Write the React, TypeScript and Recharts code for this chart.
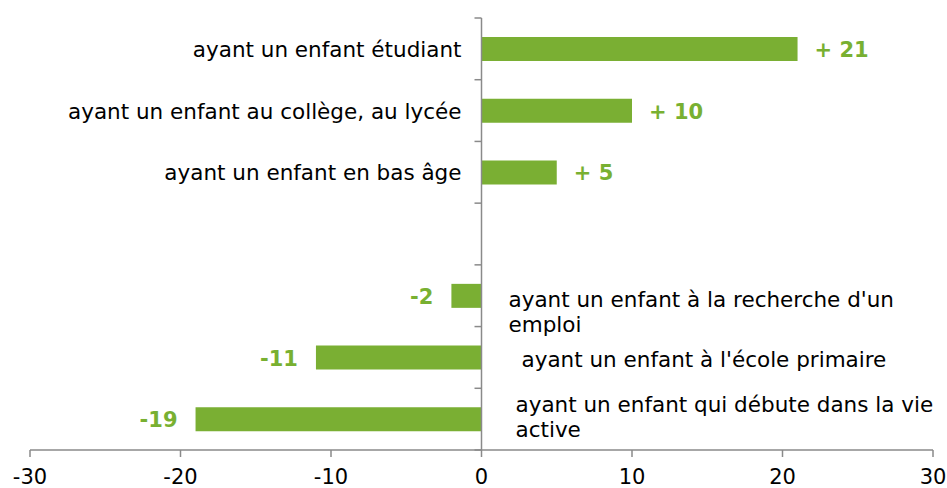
import React from "react";
import { BarChart, Bar, XAxis, YAxis, ReferenceLine, LabelList } from "recharts";

// chart data
const CATEGORY_LINES: string[][] = [
  ["ayant un enfant étudiant"],
  ["ayant un enfant au collège, au lycée"],
  ["ayant un enfant en bas âge"],
  [],
  ["ayant un enfant à la recherche d'un", "emploi"],
  ["ayant un enfant à l'école primaire"],
  ["ayant un enfant qui débute dans la vie", "active"],
];
const VALUES: (number | null)[] = [21, 10, 5, null, -2, -11, -19];
const X_TICKS = [-30, -20, -10, 0, 10, 20, 30];

const data = CATEGORY_LINES.map((lines, i) => ({
  name: lines.length ? lines.join(" ") : "-",
  value: VALUES[i],
}));

// layout / style
const W = 947;
const H = 488;
const MARGIN = { top: 18, right: 14, bottom: 8, left: 29 };
const YAXIS_W = 1;
const XAXIS_H = 30;
const PLOT_LEFT = MARGIN.left + YAXIS_W;
const PLOT_W = W - PLOT_LEFT - MARGIN.right;
const PLOT_H = H - MARGIN.top - MARGIN.bottom - XAXIS_H;
const BAND = PLOT_H / CATEGORY_LINES.length;
const X0 = PLOT_LEFT + PLOT_W / 2;
const FONT = "'DejaVu Sans', Verdana, sans-serif";
const CAT_SIZE = 21.5;
const AXIS = "#8a8a8a";
const GREEN = "#7aaf33";
const LABEL_GREEN = "#78b031";
// placement of the labels sitting right of the axis (negative bars)
const NEG_LABEL_POS: Record<number, { dx: number; dy: number }> = {
  4: { dx: 27, dy: 11 },
  5: { dx: 40, dy: 10 },
  6: { dx: 34, dy: -7 },
};

function CategoryTick(props: any) {
  const y = Number(props.y);
  const i: number = props.payload?.index ?? props.index;
  const v = VALUES[i];
  const lines = CATEGORY_LINES[i] || [];
  const pos = NEG_LABEL_POS[i] || { dx: 30, dy: 8 };
  return (
    <g>
      <line x1={X0 - 7} x2={X0} y1={y - BAND / 2} y2={y - BAND / 2} stroke={AXIS} strokeWidth={1.5} />
      {i === CATEGORY_LINES.length - 1 && (
        <line x1={X0 - 7} x2={X0} y1={y + BAND / 2} y2={y + BAND / 2} stroke={AXIS} strokeWidth={1.5} />
      )}
      {v != null && v > 0 && (
        <text x={X0 - 20} y={y + 8} textAnchor="end" fontSize={CAT_SIZE} fill="#000" fontFamily={FONT}>
          {lines[0]}
        </text>
      )}
      {v != null && v < 0 &&
        lines.map((l, k) => (
          <text key={k} x={X0 + pos.dx} y={y + pos.dy + k * 25} textAnchor="start" fontSize={CAT_SIZE} fill="#000" fontFamily={FONT}>
            {l}
          </text>
        ))}
    </g>
  );
}

function ValueLabel(props: any) {
  const { value } = props;
  if (value == null) return null;
  const x = Number(props.x), y = Number(props.y);
  const w = Number(props.width), h = Number(props.height);
  const left = Math.min(x, x + w);
  const right = Math.max(x, x + w);
  const cy = y + h / 2 + 8;
  const common = { fontSize: 21, fontWeight: 700, fill: LABEL_GREEN, fontFamily: FONT };
  if (value > 0) {
    return <text x={right + 17} y={cy} textAnchor="start" {...common}>{`+ ${value}`}</text>;
  }
  return <text x={left - 18} y={cy} textAnchor="end" {...common}>{value}</text>;
}

export default function App() {
  return (
    <div style={{ position: "absolute", left: 0, top: 0, background: "#fff", fontFamily: FONT }}>
      <BarChart width={W} height={H} data={data} layout="vertical" margin={MARGIN}>
        <XAxis
          type="number"
          domain={[-30, 30]}
          ticks={X_TICKS}
          height={XAXIS_H}
          axisLine={{ stroke: AXIS, strokeWidth: 1.5 }}
          tickLine={{ stroke: AXIS, strokeWidth: 1.5 }}
          tickSize={7}
          tickMargin={12}
          tick={{ fill: "#000", fontSize: 21, fontFamily: FONT }}
          allowDataOverflow
        />
        <YAxis
          type="category"
          dataKey="name"
          width={YAXIS_W}
          axisLine={false}
          tickLine={false}
          tick={(p: any) => <CategoryTick {...p} />}
          interval={0}
        />
        <Bar dataKey="value" fill={GREEN} barSize={24} isAnimationActive={false}>
          <LabelList dataKey="value" content={<ValueLabel />} />
        </Bar>
        <ReferenceLine x={0} stroke={AXIS} strokeWidth={1.5} />
      </BarChart>
    </div>
  );
}
